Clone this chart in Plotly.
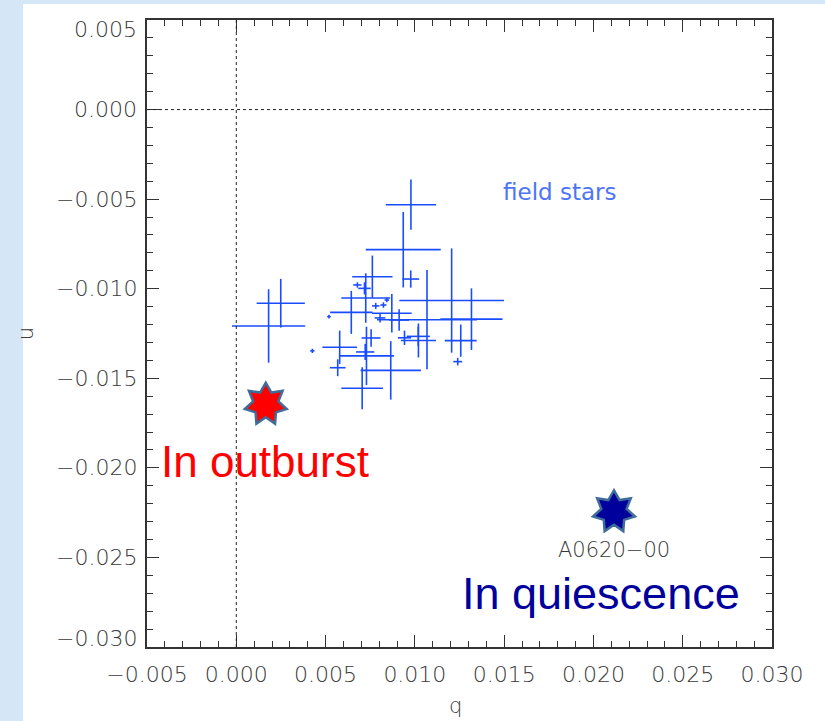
import math
import plotly.graph_objects as go

# Stokes q/u of the field stars with their 1-sigma errors
star_q = [0.00978, 0.00935, 0.00977, 0.01206, 0.01068, 0.01317, 0.00181, 0.00249,
          0.00519, 0.00426, 0.00579, 0.00568, 0.00762, 0.00725, 0.00678, 0.00718,
          0.00644, 0.00871, 0.00781, 0.00824, 0.00843, 0.00805, 0.00912, 0.01020,
          0.00942, 0.01019, 0.00755, 0.00722, 0.00729, 0.00865, 0.00705, 0.01240,
          0.01257]
star_u = [-0.00531, -0.00782, -0.00946, -0.01066, -0.01173, -0.01170, -0.01208, -0.01081,
          -0.01156, -0.01347, -0.01327, -0.01441, -0.00933, -0.01052, -0.00979, -0.00998,
          -0.01132, -0.01137, -0.01096, -0.01091, -0.01063, -0.01163, -0.01175, -0.01289,
          -0.01274, -0.01266, -0.01275, -0.01353, -0.01375, -0.01456, -0.01556, -0.01407,
          -0.01290]
star_dq = [0.00141, 0.00210, 0.00047, 0.00293, 0.00280, 0.00174, 0.00205, 0.00135,
           0.00010, 0.00012, 0.00097, 0.00044, 0.00113, 0.00137, 0.00023, 0.00035,
           0.00119, 0.00111, 0.00021, 0.00017, 0.00013, 0.00030, 0.00055, 0.00098,
           0.00037, 0.00065, 0.00053, 0.00051, 0.00154, 0.00169, 0.00117, 0.00025,
           0.00089]
star_du = [0.00140, 0.00211, 0.00048, 0.00291, 0.00277, 0.00172, 0.00205, 0.00136,
           0.00010, 0.00012, 0.00093, 0.00047, 0.00118, 0.00138, 0.00015, 0.00034,
           0.00120, 0.00108, 0.00017, 0.00015, 0.00013, 0.00026, 0.00060, 0.00095,
           0.00040, 0.00055, 0.00049, 0.00045, 0.00163, 0.00163, 0.00117, 0.00021,
           0.00090]

# A0620-00 in its two states
state_names = ["In outburst", "In quiescence"]
state_q = [0.00165, 0.02115]
state_u = [-0.01645, -0.02245]
state_fill = ["#ff0000", "#00009c"]

x_ticks = [-0.005, 0.000, 0.005, 0.010, 0.015, 0.020, 0.025, 0.030]
y_ticks = [0.005, 0.000, -0.005, -0.010, -0.015, -0.020, -0.025, -0.030]

AXIS = "#333333"
LABEL = "#383838"
CROSS = "#1a4cff"
TICK_FONT = dict(family="DejaVu Sans", size=22, color=LABEL, weight=300)


def star_path(points=7, r_out=21.5, r_in=13.0):
    """Star outline in pixels around its anchor, one point upward."""
    verts = []
    for k in range(2 * points):
        ang = math.pi / 2 + k * math.pi / points
        r = r_out if k % 2 == 0 else r_in
        verts.append(f"{r * math.cos(ang):.2f},{r * math.sin(ang):.2f}")
    return "M " + " L ".join(verts) + " Z"


def fmt(v):
    return f"{v:.3f}".replace("-", "\u2212")


fig = go.Figure()

fig.add_trace(go.Scatter(
    x=star_q, y=star_u, mode="markers",
    marker=dict(size=1, color=CROSS, opacity=0),
    error_x=dict(type="data", array=star_dq, color=CROSS, thickness=1.6, width=0),
    error_y=dict(type="data", array=star_du, color=CROSS, thickness=1.6, width=0),
    showlegend=False, hoverinfo="skip",
))

shapes = [
    # white page over the light-blue slide background
    dict(type="rect", xref="paper", yref="paper", x0=-0.1984, x1=1.2, y0=-0.2, y1=1.0255,
         fillcolor="white", line=dict(width=0), layer="below"),
    # dotted zero lines
    dict(type="line", xref="x", yref="y domain", x0=0, x1=0, y0=0, y1=1,
         line=dict(color="#222222", width=1, dash="dot")),
    dict(type="line", xref="x domain", yref="y", x0=0, x1=1, y0=0, y1=0,
         line=dict(color="#222222", width=1, dash="dot")),
]
for q, u, c in zip(state_q, state_u, state_fill):
    shapes.append(dict(type="path", xref="x", yref="y", xsizemode="pixel", ysizemode="pixel",
                       xanchor=q, yanchor=u, path=star_path(), fillcolor=c,
                       line=dict(color="#3f6d99", width=2.5), layer="above"))

annotations = [
    dict(x=state_q[1], y=state_u[1], xref="x", yref="y", text="A0620\u221200",
         showarrow=False, yshift=-38,
         font=dict(family="DejaVu Sans", size=21, color=LABEL, weight=300)),
    dict(x=-0.00433, y=-0.01965, xref="x", yref="y", text=state_names[0], showarrow=False,
         xanchor="left", yanchor="middle",
         font=dict(family="Liberation Sans, Arial", size=44, color=state_fill[0])),
    dict(x=0.01255, y=-0.02704, xref="x", yref="y", text=state_names[1], showarrow=False,
         xanchor="left", yanchor="middle",
         font=dict(family="Liberation Sans, Arial", size=45, color=state_fill[1])),
    dict(x=0.01483, y=-0.0046, xref="x", yref="y", text="field stars", showarrow=False,
         xanchor="left", yanchor="middle",
         font=dict(family="DejaVu Sans", size=23, color="#4d74f5")),
    dict(x=0.4928, y=-0.094, xref="paper", yref="paper", text="q", showarrow=False,
         xanchor="center", yanchor="middle",
         font=dict(family="DejaVu Sans", size=21, color=LABEL, weight=300)),
    dict(x=-0.194, y=0.5, xref="paper", yref="paper", text="u", showarrow=False,
         textangle=-90, xanchor="center", yanchor="middle",
         font=dict(family="DejaVu Sans", size=21, color=LABEL, weight=300)),
]

# u tick labels; the two end labels are kept inside the axis extent
for i, v in enumerate(y_ticks):
    shift = -9 if i == 0 else (9 if i == len(y_ticks) - 1 else 0)
    annotations.append(dict(x=0, y=v, xref="paper", yref="y", text=fmt(v), showarrow=False,
                            xanchor="right", yanchor="middle", xshift=-8, yshift=shift,
                            font=TICK_FONT))

axis_common = dict(
    showgrid=False, zeroline=False, showline=True, linecolor=AXIS, linewidth=1.5,
    mirror="allticks", ticks="inside", ticklen=12, tickwidth=1.3, tickcolor=AXIS,
    minor=dict(dtick=0.001, ticks="inside", ticklen=6, tickwidth=1.2, tickcolor=AXIS),
)

fig.update_xaxes(range=[-0.005, 0.030], tickvals=x_ticks, ticktext=[fmt(v) for v in x_ticks],
                 tickfont=TICK_FONT, ticklabelstandoff=7, **axis_common)
fig.update_yaxes(range=[-0.030, 0.005], tickvals=y_ticks, showticklabels=False, **axis_common)

fig.update_layout(
    width=825, height=721,
    margin=dict(l=147, r=53, t=20, b=74),
    paper_bgcolor="#d5e6f6", plot_bgcolor="white",
    shapes=shapes, annotations=annotations,
    showlegend=False,
)

fig.write_html("out.html")
